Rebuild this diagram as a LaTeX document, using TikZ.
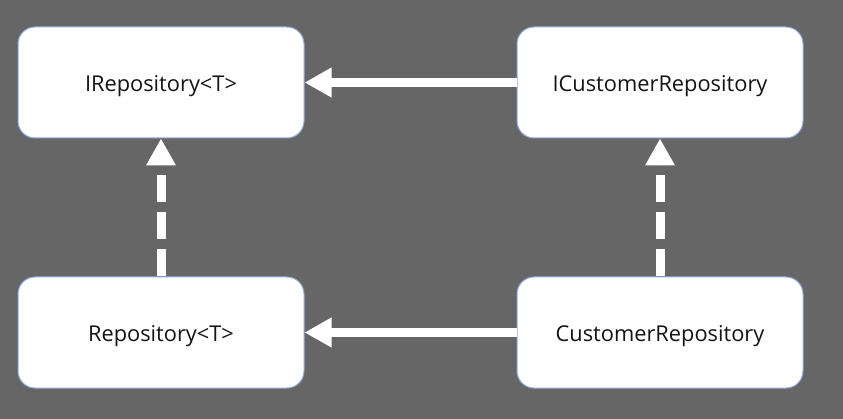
\documentclass[tikz,border=0pt]{standalone}
\usepackage{fontspec}
\setmainfont{Open Sans}
\usetikzlibrary{arrows.meta}
\definecolor{canvas}{RGB}{102,102,103}
\definecolor{boxedge}{RGB}{143,170,220}
\definecolor{labeltext}{RGB}{20,20,20}
% type names sit a little below the box centre
\newcommand{\typename}[1]{\raisebox{-3.5pt}[\height][\depth]{#1}}
\begin{document}
\begin{tikzpicture}[x=1pt,y=-1pt,
  typebox/.style={draw=boxedge, line width=1pt, fill=white, rounded corners=17pt,
    minimum width=286pt, minimum height=111pt, inner sep=0pt,
    font=\fontsize{21.8}{26}\selectfont, text=labeltext},
  link/.style={draw=white, line width=9pt,
    -{Triangle[length=27pt,width=28pt]}},
  realizes/.style={link, dash pattern=on 27pt off 10pt}]
  \fill[canvas] (0,0) rectangle (843,419);
  \useasboundingbox (0,0) rectangle (843,419);

  \node[typebox] (irepo)  at (161,82.5) {\typename{IRepository<T>}};
  \node[typebox] (icust)  at (660,82.5) {\typename{ICustomerRepository}};
  \node[typebox] (repo)   at (161,332.5) {\typename{Repository<T>}};
  \node[typebox] (cust)   at (660,332.5) {\typename{CustomerRepository}};

  \draw[link] (icust) -- (irepo);
  \draw[link] (cust) -- (repo);
  \draw[realizes] (repo) -- (irepo);
  \draw[realizes] (cust) -- (icust);
\end{tikzpicture}
\end{document}
